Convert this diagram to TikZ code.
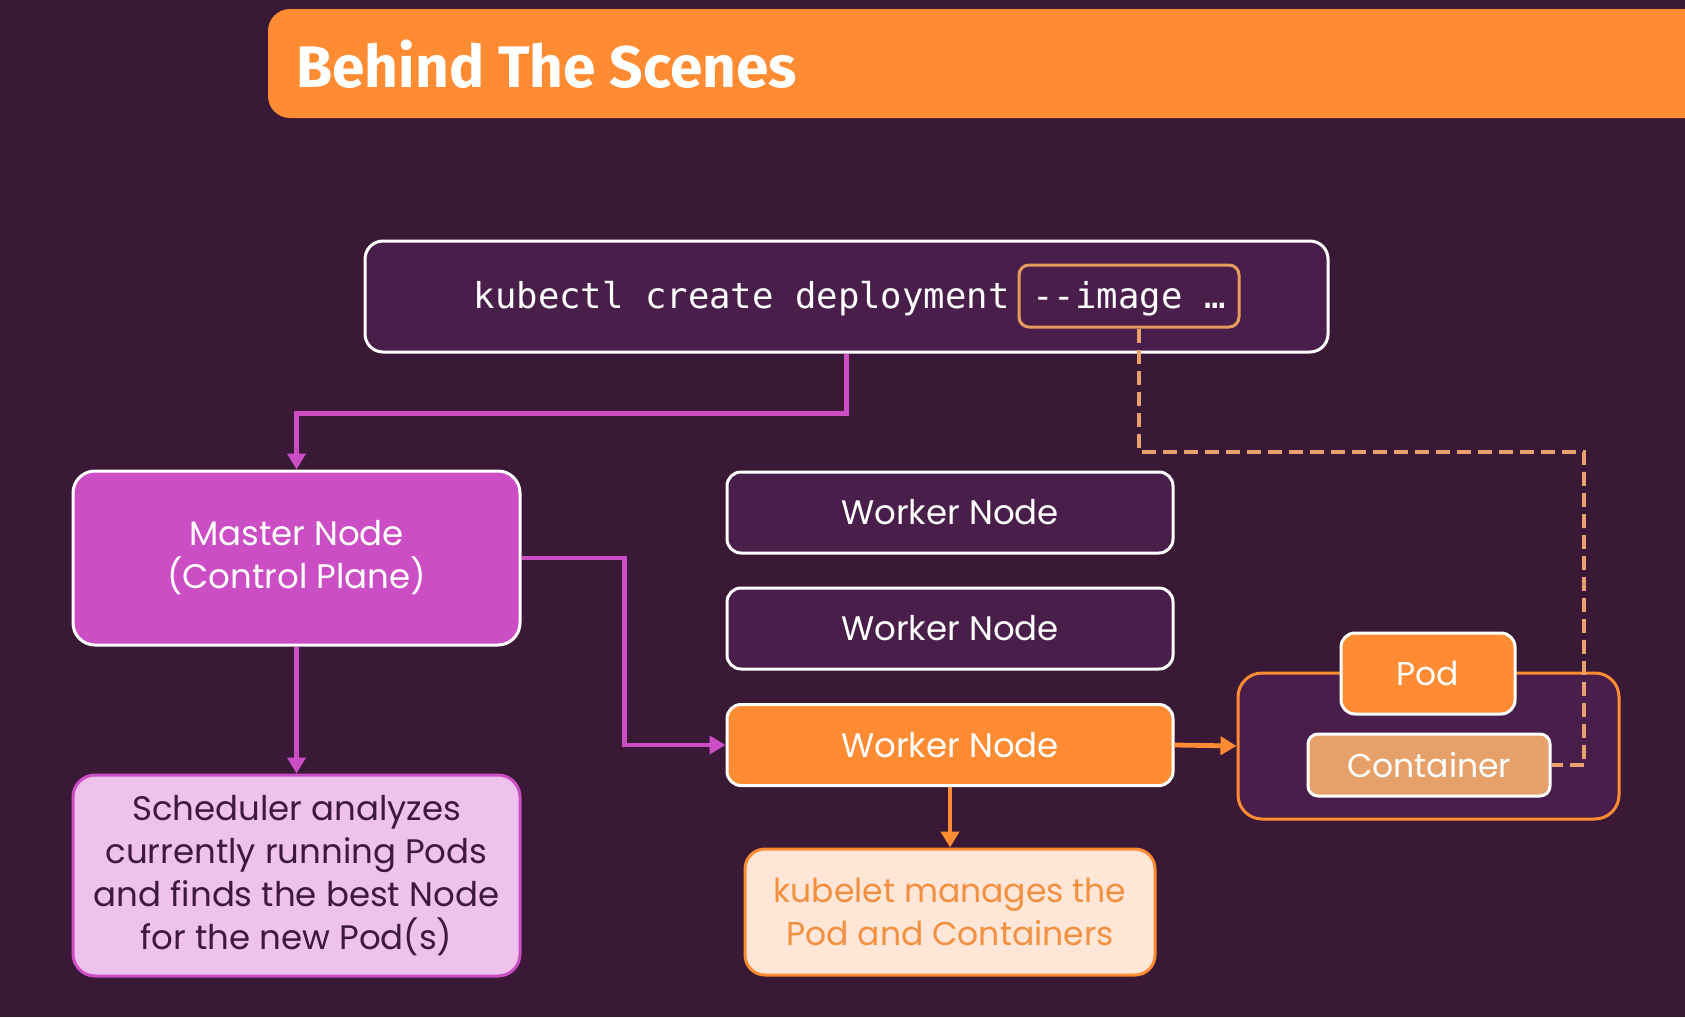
\documentclass[tikz,border=0pt]{standalone}
\usepackage{fontspec}
\setmainfont{Poppins}
\newfontfamily\titlefont{Fira Sans}
\newfontfamily\cmdfont{DejaVu Sans Mono}
\usetikzlibrary{arrows.meta}
\definecolor{bg}{HTML}{3A1936}
\definecolor{boxfill}{HTML}{4A1E4A}
\definecolor{mag}{HTML}{CC4EC4}
\definecolor{orng}{HTML}{FF8C33}
\definecolor{tanc}{HTML}{E6A06A}
\definecolor{peach}{HTML}{FFE6D6}
\definecolor{pinkc}{HTML}{EEC2EC}
\definecolor{dashc}{HTML}{E8A06E}
\definecolor{imgc}{HTML}{E69A5E}
\definecolor{darktext}{HTML}{3D1A3B}
\definecolor{kubtext}{HTML}{F39040}
\begin{document}
\begin{tikzpicture}[x=0.5pt,y=-0.5pt,
  box/.style={rounded corners=7pt, line width=1.5pt, draw=white, inner sep=0pt, align=center,
    font=\fontsize{17}{21.5}\selectfont},
  conn/.style={line width=2.4pt, -{Triangle[length=8pt,width=9pt]}},
  cmdtext/.style={text=white, inner sep=0pt, text height=0.75em, text depth=0.25em,
    font=\cmdfont\fontsize{17.8}{17.8}\selectfont}]
\fill[bg] (0,0) rectangle (1685,1017);
\useasboundingbox (0,0) rectangle (1685,1017);
\begin{scope}
  \clip (0,0) rectangle (1685,1017);
  \fill[orng, rounded corners=11pt] (268,9) rectangle (1760,118);
\end{scope}
\node[anchor=west, text=white, inner sep=0pt, font=\titlefont\bfseries\fontsize{29.3}{29.3}\selectfont] (title) at (296,64) {Behind The Scenes};

% command box
\node[box, fill=boxfill, minimum width=481.5pt, minimum height=55.5pt, rounded corners=9pt] (kbox) at (846.5,296.5) {};
\node[cmdtext, draw=imgc, line width=1.5pt, rounded corners=5pt, minimum width=110pt, minimum height=31pt] (img) at (1129,296) {};
\node[cmdtext] (imgtext) at (1129,303) {-{}-image …};
\node[cmdtext, anchor=east] (cmd) at (1010,303) {kubectl create deployment};

% master and scheduler
\node[box, fill=mag, text=white, minimum width=223.5pt, minimum height=87pt, rounded corners=11pt] (master) at (296.5,558) {Master Node\\(Control Plane)};
\node[box, draw=mag, fill=pinkc, text=darktext, minimum width=223.5pt, minimum height=100.5pt, rounded corners=11pt] (sched) at (296.5,875.5) {Scheduler analyzes\\currently running Pods\\and finds the best Node\\for the new Pod(s)};

% worker nodes
\node[box, fill=boxfill, text=white, minimum width=223pt, minimum height=40.5pt] (w1) at (950,512.5) {Worker Node};
\node[box, fill=boxfill, text=white, minimum width=223pt, minimum height=40.5pt] (w2) at (950,628.5) {Worker Node};
\node[box, fill=orng, text=white, minimum width=223pt, minimum height=40.5pt] (w3) at (950,745) {Worker Node};

% kubelet
\node[box, draw=orng, fill=peach, text=kubtext, minimum width=205pt, minimum height=63pt, rounded corners=10pt, font=\fontsize{16.5}{21.5}\selectfont] (kubelet) at (950,912) {kubelet manages the\\Pod and Containers};

% pod group
\node[box, draw=orng, fill=boxfill, minimum width=190.5pt, minimum height=73pt, rounded corners=12pt] (grp) at (1428.5,746) {};
\node[box, fill=orng, text=white, minimum width=87pt, minimum height=40.5pt, font=\fontsize{16.5}{20}\selectfont] (pod) at (1428,673.5) {Pod};
\node[box, fill=tanc, text=white, minimum width=121pt, minimum height=31pt, rounded corners=5pt, font=\fontsize{16.5}{20}\selectfont] (cont) at (1429,765) {Container};

% connectors
\draw[conn, mag] (kbox.south) -- ++(0,60) -| (master.north);
\draw[conn, mag] (master.east) -- ++(103,0) |- (w3.west);
\draw[conn, mag] (master.south) -- (sched.north);
\draw[conn, orng] (w3.east) -- (grp.west);
\draw[conn, orng] (w3.south) -- (kubelet.north);
\coordinate (dcorner) at (1584,452);
\draw[dashc, line width=2.4pt, dash pattern=on 7pt off 3.5pt] ([xshift=5pt]img.south) |- (dcorner) |- (cont.east);
\end{tikzpicture}
\end{document}
